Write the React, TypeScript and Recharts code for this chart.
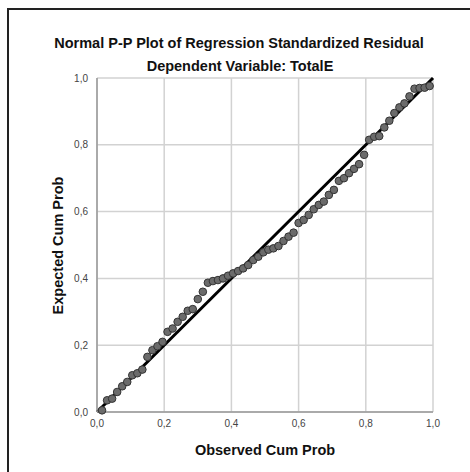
import React from 'react';
import {
  ScatterChart,
  Scatter,
  XAxis,
  YAxis,
  ZAxis,
  CartesianGrid,
  ReferenceLine,
} from 'recharts';

const observed = [
  0.015, 0.03, 0.045, 0.06, 0.075, 0.09, 0.105, 0.12, 0.135, 0.15,
  0.165, 0.18, 0.195, 0.21, 0.225, 0.24, 0.255, 0.27, 0.285, 0.3,
  0.315, 0.33, 0.345, 0.36, 0.375, 0.39, 0.405, 0.42, 0.435, 0.45,
  0.465, 0.48, 0.495, 0.51, 0.525, 0.54, 0.555, 0.57, 0.585, 0.6,
  0.615, 0.63, 0.645, 0.66, 0.675, 0.69, 0.705, 0.72, 0.735, 0.75,
  0.765, 0.78, 0.795, 0.81, 0.825, 0.84, 0.855, 0.87, 0.885, 0.9,
  0.915, 0.93, 0.945, 0.96, 0.975, 0.99,
];
const expected = [
  0.005, 0.035, 0.04, 0.06, 0.077, 0.09, 0.11, 0.116, 0.127, 0.165,
  0.185, 0.197, 0.21, 0.24, 0.25, 0.27, 0.285, 0.303, 0.308, 0.338,
  0.36, 0.387, 0.392, 0.395, 0.4, 0.408, 0.415, 0.422, 0.43, 0.44,
  0.455, 0.465, 0.478, 0.486, 0.49, 0.497, 0.512, 0.525, 0.537, 0.566,
  0.575, 0.59, 0.607, 0.62, 0.63, 0.65, 0.665, 0.692, 0.7, 0.715,
  0.728, 0.742, 0.77, 0.815, 0.824, 0.826, 0.852, 0.872, 0.895, 0.912,
  0.924, 0.945, 0.968, 0.97, 0.971, 0.976,
];
const ticks = [0, 0.2, 0.4, 0.6, 0.8, 1];

const data = observed.map((x, i) => ({ x, y: expected[i] }));

const font = "Arial, 'Liberation Sans', sans-serif";
const fmt = (v: number) => v.toFixed(1).replace('.', ',');

const Dot = (props: any) => (
  <circle cx={props.cx} cy={props.cy} r={3.8} fill="#6b6b6b" stroke="#333" strokeWidth={1} />
);

const textStyle: React.CSSProperties = {
  position: 'absolute',
  textAlign: 'center',
  fontSize: 14.5,
  lineHeight: '17px',
  fontWeight: 'bold',
  color: '#111',
  whiteSpace: 'nowrap',
};

export default function App() {
  return (
    <div
      style={{
        position: 'absolute',
        left: 0,
        top: 0,
        width: 470,
        height: 472,
        background: '#fff',
        fontFamily: font,
        overflow: 'hidden',
      }}
    >
      <div
        style={{
          position: 'absolute',
          left: 7,
          top: 8,
          width: 480,
          height: 480,
          borderLeft: '2px solid #222',
          borderTop: '2px solid #222',
        }}
      />
      <div style={{ ...textStyle, left: 0, width: 478, top: 35 }}>
        Normal P-P Plot of Regression Standardized Residual
      </div>
      <div style={{ ...textStyle, left: 0, width: 480, top: 57.5 }}>
        Dependent Variable: TotalE
      </div>
      <div style={{ ...textStyle, left: 165, width: 200, top: 442 }}>
        Observed Cum Prob
      </div>
      <div style={{ ...textStyle, left: 58 - 100, width: 200, top: 245 - 8.5, transform: 'rotate(-90deg)' }}>
        Expected Cum Prob
      </div>
      <div style={{ position: 'absolute', left: 0, top: 0 }}>
        <ScatterChart width={470} height={472} margin={{ top: 78, right: 37, left: 57, bottom: 30 }}>
          <CartesianGrid stroke="#d2d2d2" strokeWidth={1.5} horizontalValues={ticks} verticalValues={ticks} />
          <XAxis
            type="number"
            dataKey="x"
            domain={[0, 1]}
            ticks={ticks}
            tickFormatter={fmt}
            height={30}
            tickLine={false}
            axisLine={{ stroke: '#999', strokeWidth: 1.5 }}
            tick={{ fontSize: 10, fill: '#444', fontFamily: font }}
            tickMargin={2}
          />
          <YAxis
            type="number"
            dataKey="y"
            domain={[0, 1]}
            ticks={ticks}
            tickFormatter={fmt}
            width={40}
            tickLine={false}
            axisLine={{ stroke: '#999', strokeWidth: 1.5 }}
            tick={{ fontSize: 10, fill: '#444', fontFamily: font }}
            tickMargin={3}
          />
          <ZAxis range={[45, 45]} />
          <Scatter data={data} shape={Dot} isAnimationActive={false} />
          <ReferenceLine
            segment={[
              { x: 0, y: 0 },
              { x: 1, y: 1 },
            ]}
            stroke="#000"
            strokeWidth={3}
          />
        </ScatterChart>
      </div>
    </div>
  );
}
